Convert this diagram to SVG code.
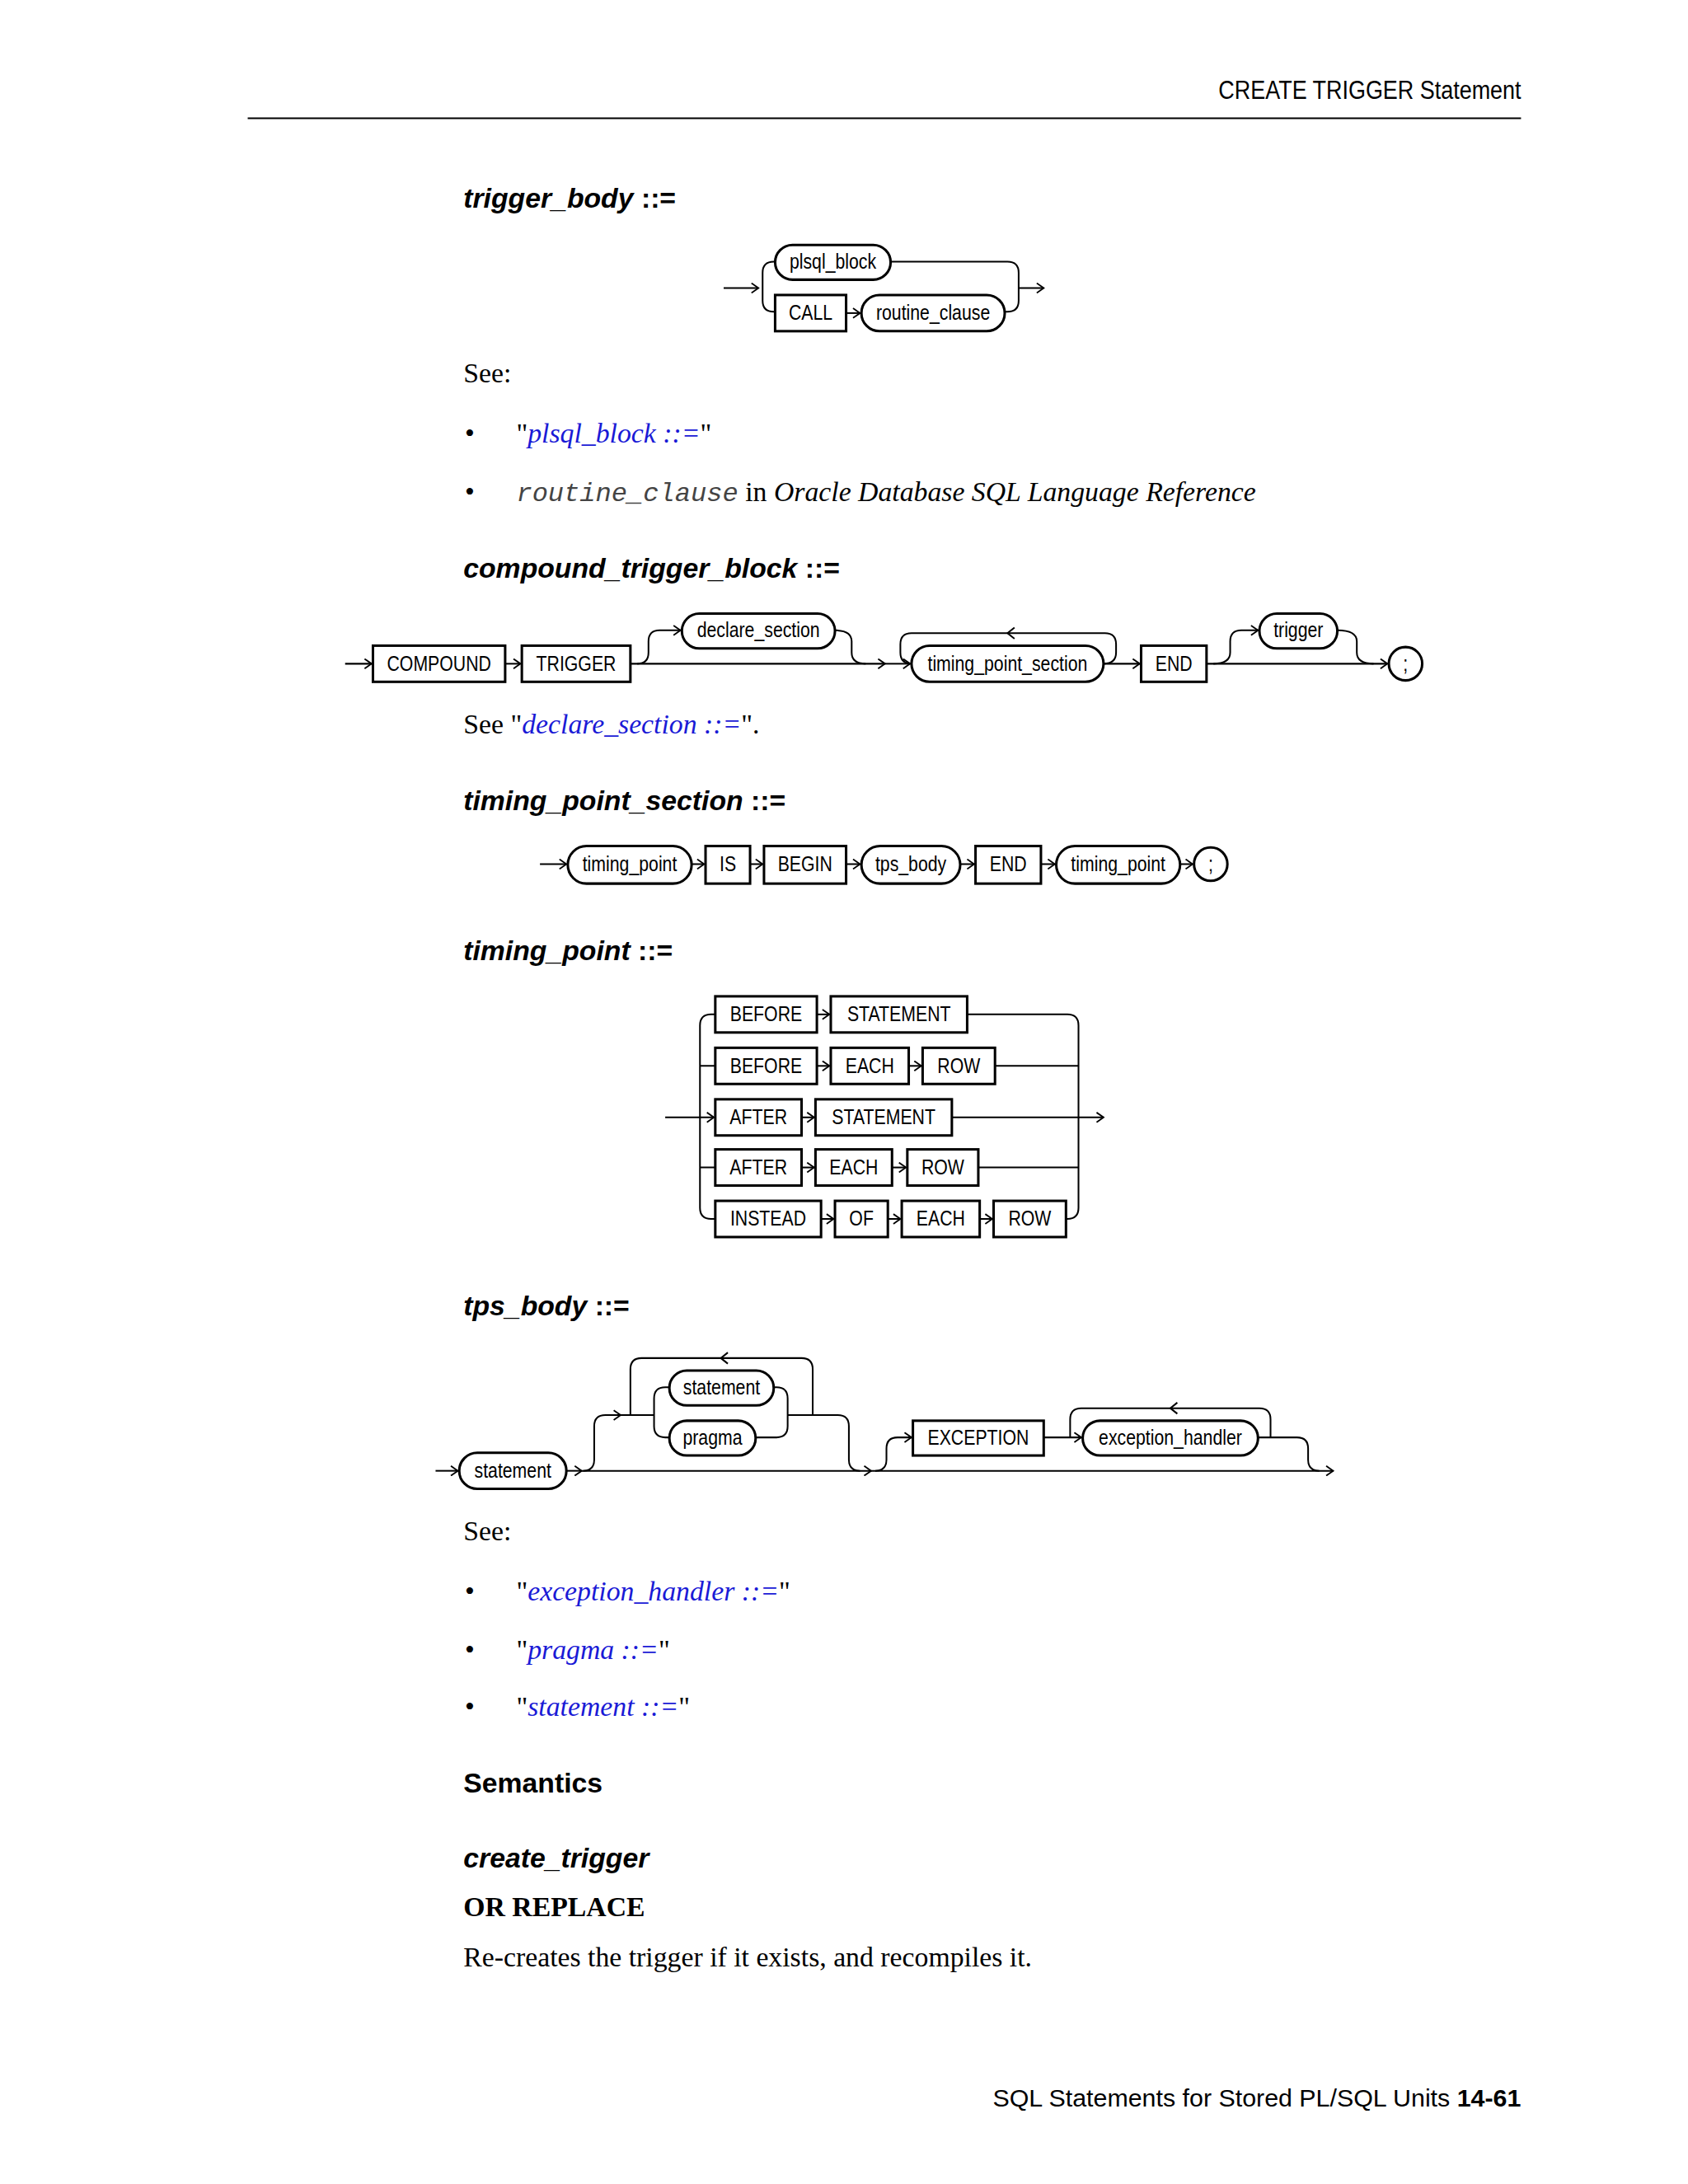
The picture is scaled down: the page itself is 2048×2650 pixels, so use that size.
<svg xmlns="http://www.w3.org/2000/svg" width="2048" height="2650" viewBox="0 0 2048 2650">
<style>
.l{fill:none;stroke:#000;stroke-width:1.2}
.b{fill:#fff;stroke:#000;stroke-width:1.8}
.t{font-family:"Liberation Sans",sans-serif;font-size:15px;text-anchor:middle;transform-box:fill-box;transform-origin:center;transform:scaleX(0.84)}
.n{transform-box:fill-box;transform-origin:right;transform:scaleX(0.84)}
.h{font-family:"Liberation Sans",sans-serif;font-size:20px;font-weight:bold;font-style:italic}
.s{font-family:"Liberation Serif",serif;font-size:20px}
.k{fill:#1a1ad6;font-style:italic}
</style>
<defs>
<marker id="a" markerWidth="8" markerHeight="8" refX="6" refY="4" orient="auto" markerUnits="userSpaceOnUse"><path d="M1,0.5 L6,4 L1,7.5" fill="none" stroke="#000" stroke-width="1.1"/></marker>
</defs>
<rect width="2048" height="2650" fill="#fff"/>
<g transform="scale(1.6884)">
<text class="n" x="1093" y="71" font-family="Liberation Sans,sans-serif" font-size="19" text-anchor="end">CREATE TRIGGER Statement</text>
<line x1="178" y1="85" x2="1093" y2="85" stroke="#000" stroke-width="1.2"/>

<text class="h" x="333" y="149">trigger_body <tspan font-style="normal">::=</tspan></text>
<g id="connectors-tb">
<path class="l" d="M520,207 H545" marker-end="url(#a)"/>
<path class="l" d="M557,188 H556 Q548,188 548,196 V216 Q548,224 556,224 H557"/>
<path class="l" d="M640,188 H724 Q732,188 732,196 V216 Q732,224 724,224 H722"/>
<path class="l" d="M732,207 H750" marker-end="url(#a)"/>
<path class="l" d="M608,225 H618" marker-end="url(#a)"/>
</g>
<g id="tb-plsql"><rect class="b" x="557" y="176" width="83" height="25" rx="12.5"/><text class="t" x="598.5" y="193">plsql_block</text></g>
<g id="tb-call"><rect class="b" x="557" y="212" width="51" height="26"/><text class="t" x="582.5" y="230">CALL</text></g>
<g id="tb-routine"><rect class="b" x="619" y="212" width="103" height="26" rx="13"/><text class="t" x="670.5" y="230">routine_clause</text></g>

<text class="s" x="333" y="275">See:</text>
<text class="s" x="334" y="318">•</text>
<text class="s" x="371" y="318">"<tspan class="k">plsql_block ::=</tspan>"</text>
<text class="s" x="334" y="360">•</text>
<text class="s" x="371" y="360"><tspan font-family="Liberation Mono,monospace" font-style="italic" fill="#444" font-size="19">routine_clause</tspan> in <tspan font-style="italic">Oracle Database SQL Language Reference</tspan></text>

<text class="h" x="333" y="415">compound_trigger_block <tspan font-style="normal">::=</tspan></text>
<g id="connectors-ctb">
<path class="l" d="M248,477 H267" marker-end="url(#a)"/>
<path class="l" d="M363,477 H374" marker-end="url(#a)"/>
<path class="l" d="M453,477 H636" marker-end="url(#a)"/>
<path class="l" d="M636,477 H654" marker-end="url(#a)"/>
<path class="l" d="M458,477 Q466,477 466,469 V461 Q466,453 474,453 H489" marker-end="url(#a)"/>
<path class="l" d="M600,453 Q612,453 612,461 V469 Q612,477 622,477"/>
<path class="l" d="M793,477 Q802,477 802,469 V463 Q802,455 794,455 H655 Q647,455 647,463 V469 Q647,477 655,477"/>
<path class="l" d="M729,451 L724,455 L729,459"/>
<path class="l" d="M793,477 H819" marker-end="url(#a)"/>
<path class="l" d="M867,477 H997" marker-end="url(#a)"/>
<path class="l" d="M872,477 Q884,477 884,469 V461 Q884,453 892,453 H904" marker-end="url(#a)"/>
<path class="l" d="M961,453 Q975,453 975,461 V469 Q975,477 987,477"/>
</g>
<g id="ctb-compound"><rect class="b" x="268" y="464" width="95" height="26"/><text class="t" x="315.5" y="482">COMPOUND</text></g>
<g id="ctb-trigger"><rect class="b" x="375" y="464" width="78" height="26"/><text class="t" x="414" y="482">TRIGGER</text></g>
<g id="ctb-declare"><rect class="b" x="490" y="441" width="110" height="25" rx="12.5"/><text class="t" x="545" y="458">declare_section</text></g>
<g id="ctb-tps"><rect class="b" x="655" y="464" width="138" height="26" rx="13"/><text class="t" x="724" y="482">timing_point_section</text></g>
<g id="ctb-end"><rect class="b" x="820" y="464" width="47" height="26"/><text class="t" x="843.5" y="482">END</text></g>
<g id="ctb-trig"><rect class="b" x="905" y="441" width="56" height="25" rx="12.5"/><text class="t" x="933" y="458">trigger</text></g>
<g id="ctb-semi"><circle class="b" cx="1010" cy="477" r="12"/><text class="t" x="1010" y="482">;</text></g>

<text class="s" x="333" y="527">See "<tspan class="k">declare_section ::=</tspan>".</text>

<text class="h" x="333" y="582">timing_point_section <tspan font-style="normal">::=</tspan></text>
<g id="connectors-tps">
<path class="l" d="M388,621 H407" marker-end="url(#a)"/>
<path class="l" d="M497,621 H506" marker-end="url(#a)"/>
<path class="l" d="M539,621 H548" marker-end="url(#a)"/>
<path class="l" d="M608,621 H618" marker-end="url(#a)"/>
<path class="l" d="M690,621 H700" marker-end="url(#a)"/>
<path class="l" d="M748,621 H758" marker-end="url(#a)"/>
<path class="l" d="M848,621 H857" marker-end="url(#a)"/>
</g>
<g id="tps-tp1"><rect class="b" x="408" y="608" width="89" height="27" rx="13.5"/><text class="t" x="452.5" y="626">timing_point</text></g>
<g id="tps-is"><rect class="b" x="507" y="608" width="32" height="27"/><text class="t" x="523" y="626">IS</text></g>
<g id="tps-begin"><rect class="b" x="549" y="608" width="59" height="27"/><text class="t" x="578.5" y="626">BEGIN</text></g>
<g id="tps-body"><rect class="b" x="619" y="608" width="71" height="27" rx="13.5"/><text class="t" x="654.5" y="626">tps_body</text></g>
<g id="tps-end"><rect class="b" x="701" y="608" width="47" height="27"/><text class="t" x="724.5" y="626">END</text></g>
<g id="tps-tp2"><rect class="b" x="759" y="608" width="89" height="27" rx="13.5"/><text class="t" x="803.5" y="626">timing_point</text></g>
<g id="tps-semi"><circle class="b" cx="870" cy="621" r="12"/><text class="t" x="870" y="626">;</text></g>

<text class="h" x="333" y="690">timing_point <tspan font-style="normal">::=</tspan></text>
<g id="connectors-tp">
<path class="l" d="M478,803 H513" marker-end="url(#a)"/>
<path class="l" d="M514,729 H511 Q503,729 503,737 V868 Q503,876 511,876 H514"/>
<path class="l" d="M503,766 H514 M503,839 H514"/>
<path class="l" d="M695,729 H767 Q775,729 775,737 V868 Q775,876 767,876 H766"/>
<path class="l" d="M715,766 H775 M703,839 H775"/>
<path class="l" d="M684,803 H793" marker-end="url(#a)"/>
<path class="l" d="M587,729 H596" marker-end="url(#a)"/>
<path class="l" d="M587,766 H596" marker-end="url(#a)"/>
<path class="l" d="M653,766 H662" marker-end="url(#a)"/>
<path class="l" d="M576,803 H585" marker-end="url(#a)"/>
<path class="l" d="M576,839 H585" marker-end="url(#a)"/>
<path class="l" d="M641,839 H651" marker-end="url(#a)"/>
<path class="l" d="M590,876 H599" marker-end="url(#a)"/>
<path class="l" d="M638,876 H647" marker-end="url(#a)"/>
<path class="l" d="M704,876 H713" marker-end="url(#a)"/>
</g>
<g id="tp-r1a"><rect class="b" x="514" y="716" width="73" height="26"/><text class="t" x="550.5" y="734">BEFORE</text></g>
<g id="tp-r1b"><rect class="b" x="597" y="716" width="98" height="26"/><text class="t" x="646" y="734">STATEMENT</text></g>
<g id="tp-r2a"><rect class="b" x="514" y="753" width="73" height="26"/><text class="t" x="550.5" y="771">BEFORE</text></g>
<g id="tp-r2b"><rect class="b" x="597" y="753" width="56" height="26"/><text class="t" x="625" y="771">EACH</text></g>
<g id="tp-r2c"><rect class="b" x="663" y="753" width="52" height="26"/><text class="t" x="689" y="771">ROW</text></g>
<g id="tp-r3a"><rect class="b" x="514" y="790" width="62" height="26"/><text class="t" x="545" y="808">AFTER</text></g>
<g id="tp-r3b"><rect class="b" x="586" y="790" width="98" height="26"/><text class="t" x="635" y="808">STATEMENT</text></g>
<g id="tp-r4a"><rect class="b" x="514" y="826" width="62" height="26"/><text class="t" x="545" y="844">AFTER</text></g>
<g id="tp-r4b"><rect class="b" x="586" y="826" width="55" height="26"/><text class="t" x="613.5" y="844">EACH</text></g>
<g id="tp-r4c"><rect class="b" x="652" y="826" width="51" height="26"/><text class="t" x="677.5" y="844">ROW</text></g>
<g id="tp-r5a"><rect class="b" x="514" y="863" width="76" height="26"/><text class="t" x="552" y="881">INSTEAD</text></g>
<g id="tp-r5b"><rect class="b" x="600" y="863" width="38" height="26"/><text class="t" x="619" y="881">OF</text></g>
<g id="tp-r5c"><rect class="b" x="648" y="863" width="56" height="26"/><text class="t" x="676" y="881">EACH</text></g>
<g id="tp-r5d"><rect class="b" x="714" y="863" width="52" height="26"/><text class="t" x="740" y="881">ROW</text></g>

<text class="h" x="333" y="945">tps_body <tspan font-style="normal">::=</tspan></text>
<g id="connectors-body">
<path class="l" d="M313,1057 H329" marker-end="url(#a)"/>
<path class="l" d="M407,1057 H418" marker-end="url(#a)"/>
<path class="l" d="M418,1057 H626" marker-end="url(#a)"/>
<path class="l" d="M626,1057 H958" marker-end="url(#a)"/>
<path class="l" d="M419,1057 Q427,1057 427,1049 V1025 Q427,1017 435,1017 H446" marker-end="url(#a)"/>
<path class="l" d="M446,1017 H470"/>
<path class="l" d="M481,997 H478 Q470,997 470,1005 V1025 Q470,1033 478,1033 H481"/>
<path class="l" d="M453,1017 V984 Q453,976 461,976 H576 Q584,976 584,984 V1017"/>
<path class="l" d="M523,972 L518,976 L523,980"/>
<path class="l" d="M556,997 H558 Q566,997 566,1005 V1025 Q566,1033 558,1033 H543"/>
<path class="l" d="M566,1017 H602 Q610,1017 610,1025 V1049 Q610,1057 618,1057"/>
<path class="l" d="M629,1057 Q637,1057 637,1049 V1041 Q637,1033 645,1033 H655" marker-end="url(#a)"/>
<path class="l" d="M750,1033 H777" marker-end="url(#a)"/>
<path class="l" d="M769,1033 V1020 Q769,1012 777,1012 H905 Q913,1012 913,1020 V1033"/>
<path class="l" d="M846,1008 L841,1012 L846,1016"/>
<path class="l" d="M904,1033 H932 Q940,1033 940,1041 V1049 Q940,1057 948,1057"/>
</g>
<g id="body-stmt1"><rect class="b" x="330" y="1044" width="77" height="26" rx="13"/><text class="t" x="368.5" y="1062">statement</text></g>
<g id="body-stmt2"><rect class="b" x="481" y="985" width="75" height="25" rx="12.5"/><text class="t" x="518.5" y="1002">statement</text></g>
<g id="body-pragma"><rect class="b" x="481" y="1021" width="62" height="25" rx="12.5"/><text class="t" x="512" y="1038">pragma</text></g>
<g id="body-exc"><rect class="b" x="656" y="1021" width="94" height="25"/><text class="t" x="703" y="1038">EXCEPTION</text></g>
<g id="body-handler"><rect class="b" x="778" y="1021" width="126" height="25" rx="12.5"/><text class="t" x="841" y="1038">exception_handler</text></g>

<text class="s" x="333" y="1107">See:</text>
<text class="s" x="334" y="1150">•</text>
<text class="s" x="371" y="1150">"<tspan class="k">exception_handler ::=</tspan>"</text>
<text class="s" x="334" y="1192">•</text>
<text class="s" x="371" y="1192">"<tspan class="k">pragma ::=</tspan>"</text>
<text class="s" x="334" y="1233">•</text>
<text class="s" x="371" y="1233">"<tspan class="k">statement ::=</tspan>"</text>

<text x="333" y="1288" font-family="Liberation Sans,sans-serif" font-size="20" font-weight="bold">Semantics</text>
<text class="h" x="333" y="1342">create_trigger</text>
<text class="s" x="333" y="1377" font-weight="bold">OR REPLACE</text>
<text class="s" x="333" y="1413">Re-creates the trigger if it exists, and recompiles it.</text>

<text x="1093" y="1514" font-family="Liberation Sans,sans-serif" font-size="18" text-anchor="end">SQL Statements for Stored PL/SQL Units  <tspan font-weight="bold">14-61</tspan></text>
</g>
</svg>
